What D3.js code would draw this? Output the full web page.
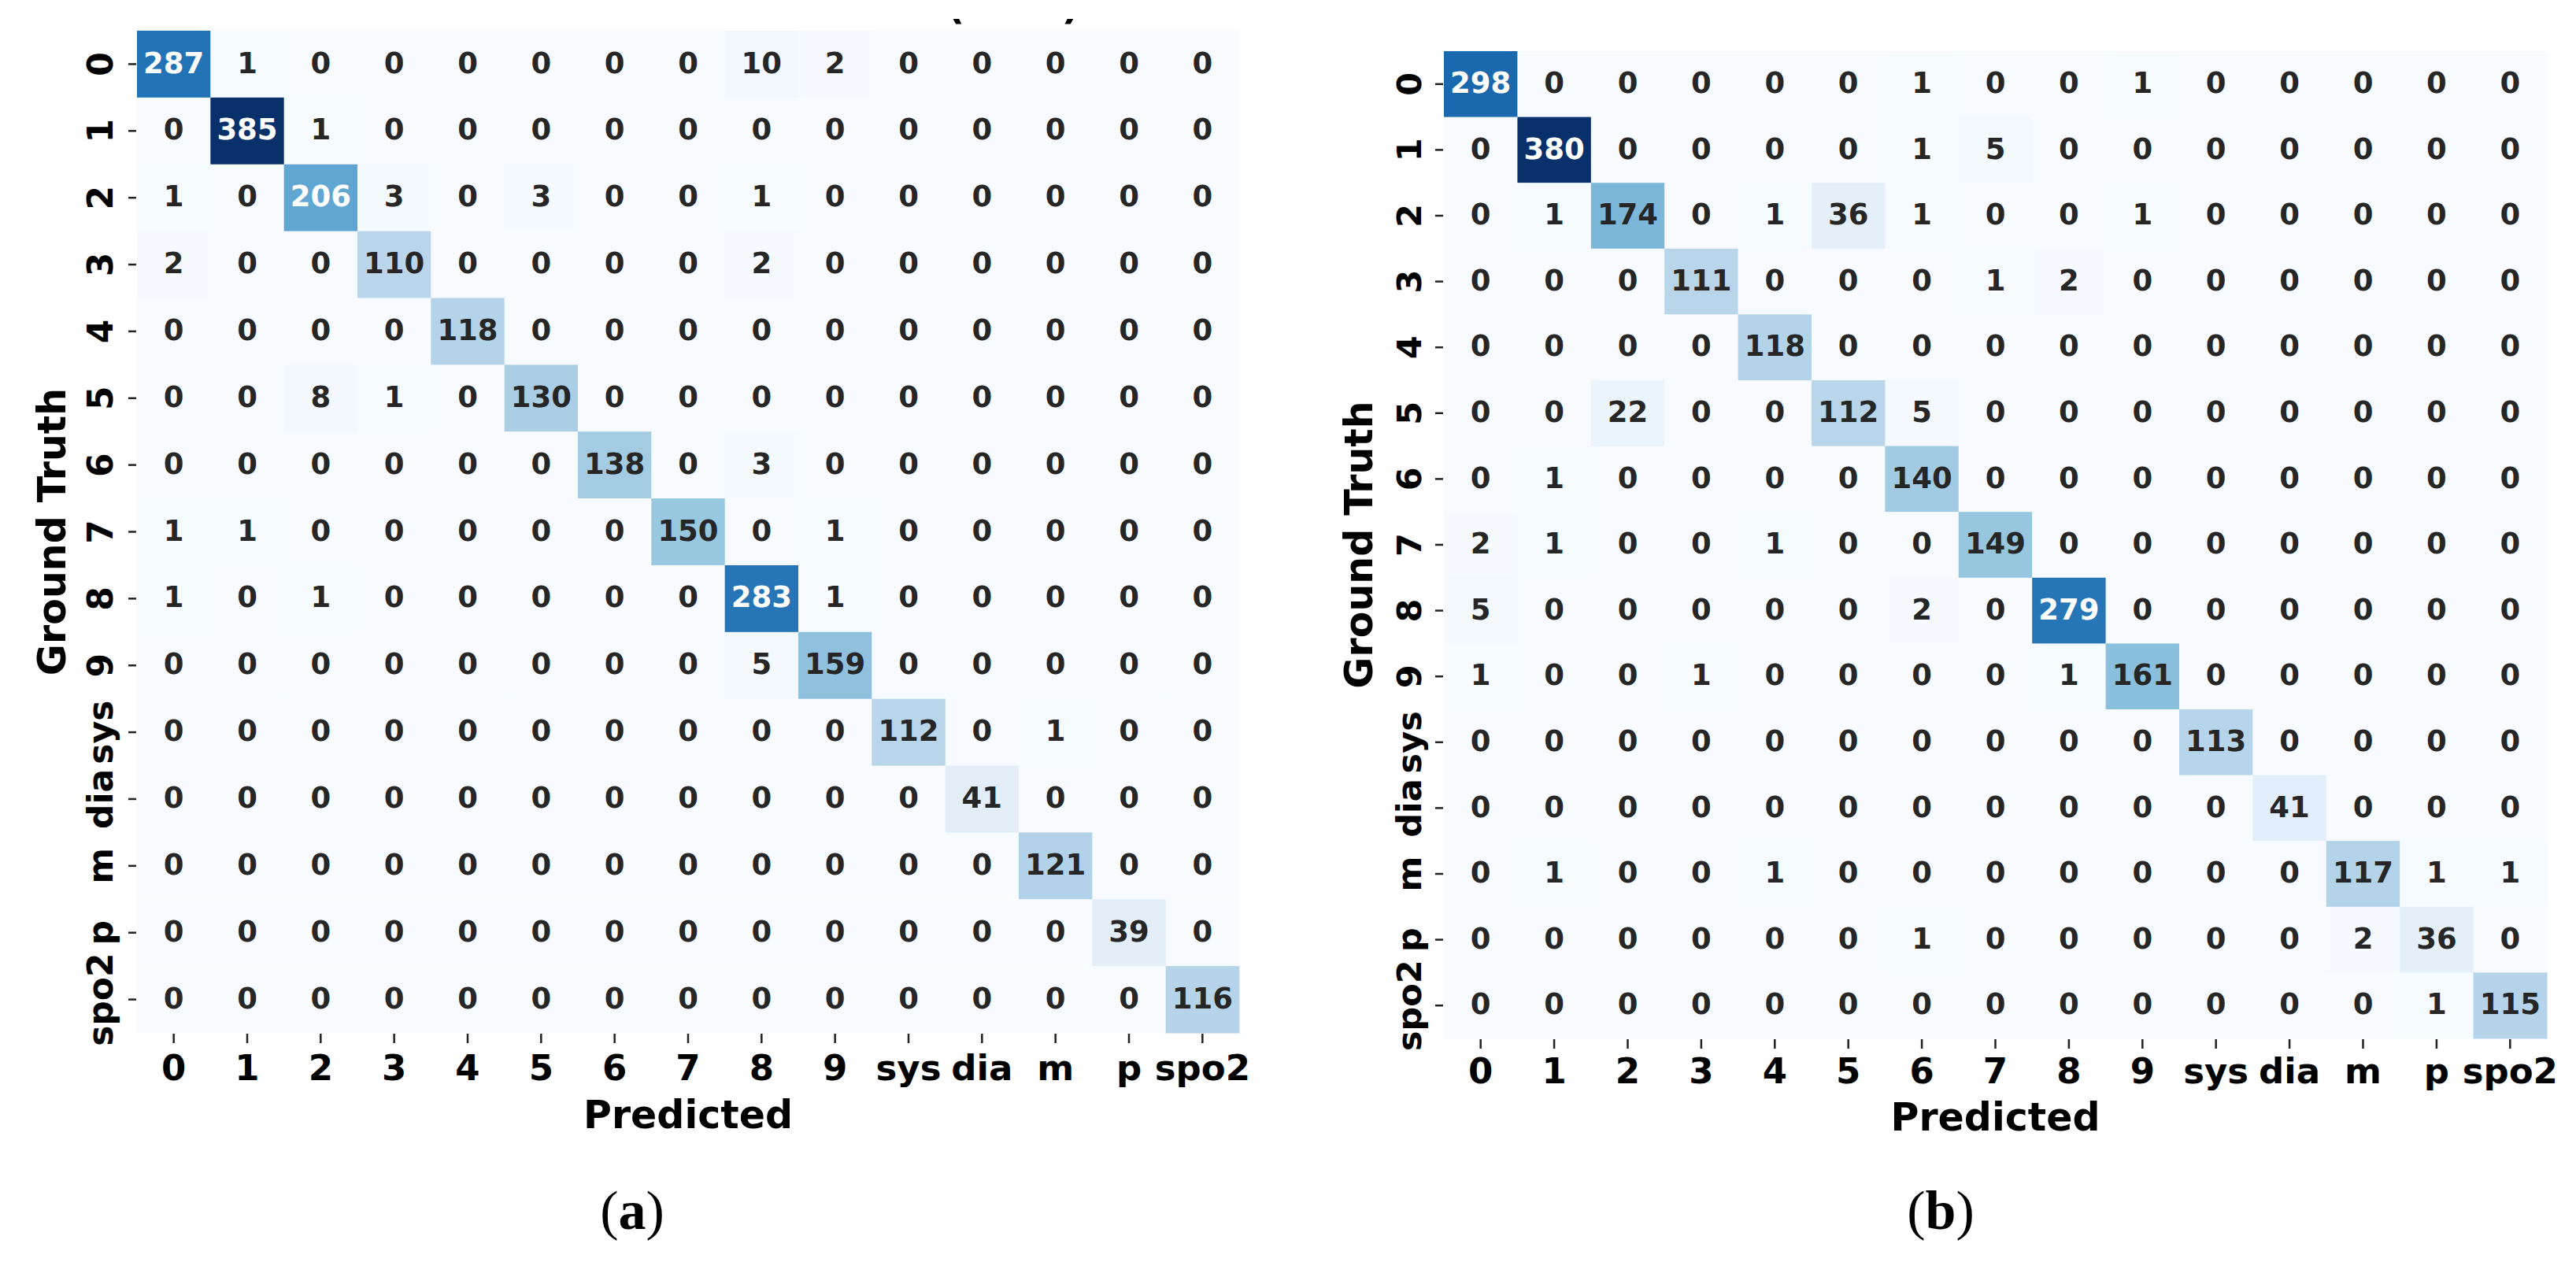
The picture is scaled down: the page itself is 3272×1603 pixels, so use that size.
<!DOCTYPE html>
<html>
<head>
<meta charset="utf-8">
<script src="https://cdn.jsdelivr.net/npm/d3@7"></script>
<style>
  body { margin: 0; background: #fff; }
  svg { display: block; font-family: "DejaVu Sans", sans-serif; }
</style>
</head>
<body>
<svg id="chart" width="3272" height="1603"></svg>
<script>
// class labels (rows = ground truth, cols = predicted)
const classes = ['0', '1', '2', '3', '4', '5', '6', '7', '8', '9', 'sys', 'dia', 'm', 'p', 'spo2'];

// confusion matrix (a)
const matrixA = [
	[287, 1, 0, 0, 0, 0, 0, 0, 10, 2, 0, 0, 0, 0, 0],
	[0, 385, 1, 0, 0, 0, 0, 0, 0, 0, 0, 0, 0, 0, 0],
	[1, 0, 206, 3, 0, 3, 0, 0, 1, 0, 0, 0, 0, 0, 0],
	[2, 0, 0, 110, 0, 0, 0, 0, 2, 0, 0, 0, 0, 0, 0],
	[0, 0, 0, 0, 118, 0, 0, 0, 0, 0, 0, 0, 0, 0, 0],
	[0, 0, 8, 1, 0, 130, 0, 0, 0, 0, 0, 0, 0, 0, 0],
	[0, 0, 0, 0, 0, 0, 138, 0, 3, 0, 0, 0, 0, 0, 0],
	[1, 1, 0, 0, 0, 0, 0, 150, 0, 1, 0, 0, 0, 0, 0],
	[1, 0, 1, 0, 0, 0, 0, 0, 283, 1, 0, 0, 0, 0, 0],
	[0, 0, 0, 0, 0, 0, 0, 0, 5, 159, 0, 0, 0, 0, 0],
	[0, 0, 0, 0, 0, 0, 0, 0, 0, 0, 112, 0, 1, 0, 0],
	[0, 0, 0, 0, 0, 0, 0, 0, 0, 0, 0, 41, 0, 0, 0],
	[0, 0, 0, 0, 0, 0, 0, 0, 0, 0, 0, 0, 121, 0, 0],
	[0, 0, 0, 0, 0, 0, 0, 0, 0, 0, 0, 0, 0, 39, 0],
	[0, 0, 0, 0, 0, 0, 0, 0, 0, 0, 0, 0, 0, 0, 116]
];

// confusion matrix (b)
const matrixB = [
	[298, 0, 0, 0, 0, 0, 1, 0, 0, 1, 0, 0, 0, 0, 0],
	[0, 380, 0, 0, 0, 0, 1, 5, 0, 0, 0, 0, 0, 0, 0],
	[0, 1, 174, 0, 1, 36, 1, 0, 0, 1, 0, 0, 0, 0, 0],
	[0, 0, 0, 111, 0, 0, 0, 1, 2, 0, 0, 0, 0, 0, 0],
	[0, 0, 0, 0, 118, 0, 0, 0, 0, 0, 0, 0, 0, 0, 0],
	[0, 0, 22, 0, 0, 112, 5, 0, 0, 0, 0, 0, 0, 0, 0],
	[0, 1, 0, 0, 0, 0, 140, 0, 0, 0, 0, 0, 0, 0, 0],
	[2, 1, 0, 0, 1, 0, 0, 149, 0, 0, 0, 0, 0, 0, 0],
	[5, 0, 0, 0, 0, 0, 2, 0, 279, 0, 0, 0, 0, 0, 0],
	[1, 0, 0, 1, 0, 0, 0, 0, 1, 161, 0, 0, 0, 0, 0],
	[0, 0, 0, 0, 0, 0, 0, 0, 0, 0, 113, 0, 0, 0, 0],
	[0, 0, 0, 0, 0, 0, 0, 0, 0, 0, 0, 41, 0, 0, 0],
	[0, 1, 0, 0, 1, 0, 0, 0, 0, 0, 0, 0, 117, 1, 1],
	[0, 0, 0, 0, 0, 0, 1, 0, 0, 0, 0, 0, 2, 36, 0],
	[0, 0, 0, 0, 0, 0, 0, 0, 0, 0, 0, 0, 0, 1, 115]
];

const svg = d3.select('#chart');
svg.append('rect').attr('width', 3272).attr('height', 1603).attr('fill', '#fff');

// seaborn's rule for picking annotation colour
const luminance = function(c) {
	const rgb = d3.rgb(c);
	const lin = [rgb.r, rgb.g, rgb.b].map(v => {
		v = v / 255;
		return v <= 0.03928 ? v / 12.92 : Math.pow((v + 0.055) / 1.055, 2.4);
	});
	return 0.2126*lin[0] + 0.7152*lin[1] + 0.0722*lin[2];
};

const drawMatrix = function(cfg) {
	const { data, left, right, top, bottom } = cfg;
	const g = svg.append('g');
	const x = d3.scaleBand().domain(classes).range([left, right]);
	const y = d3.scaleBand().domain(classes).range([top, bottom]);
	const vmax = d3.max(data.flat());
	const blues = d3.schemeBlues[9];
	const color = d3.scaleLinear()
		.domain(blues.map((_, i) => vmax * i / (blues.length - 1)))
		.range(blues)
		.interpolate(d3.interpolateRgb);

	const cells = [];
	data.forEach((row, i) => row.forEach((v, j) => cells.push({ r: classes[i], c: classes[j], v })));

	g.selectAll('rect.cell').data(cells).join('rect')
		.attr('class', 'cell')
		.attr('x', d => x(d.c))
		.attr('y', d => y(d.r))
		.attr('width', x.bandwidth() + 0.5)
		.attr('height', y.bandwidth() + 0.5)
		.attr('fill', d => color(d.v));

	const fs = 37;
	g.selectAll('text.annot').data(cells).join('text')
		.attr('class', 'annot')
		.attr('x', d => x(d.c) + x.bandwidth()/2)
		.attr('y', d => y(d.r) + y.bandwidth()/2 + 0.30*fs)
		.attr('text-anchor', 'middle')
		.attr('font-size', fs)
		.attr('font-weight', 'bold')
		.attr('fill', d => luminance(color(d.v)) > 0.408 ? '#262626' : '#fff')
		.text(d => d.v);

	// axes
	const xAxis = g.append('g')
		.attr('transform', `translate(0, ${bottom + 1})`)
		.call(d3.axisBottom(x).tickSize(12).tickPadding(0));
	xAxis.select('.domain').remove();
	xAxis.selectAll('line').attr('stroke', '#222').attr('stroke-width', 2.5);
	xAxis.selectAll('text')
		.attr('y', cfg.xLabelOffset).attr('dy', null)
		.attr('fill', '#000').attr('font-size', 45).attr('font-weight', 'bold')
		.attr('font-family', '"DejaVu Sans", sans-serif');

	const yAxis = g.append('g')
		.attr('transform', `translate(${left - 1}, 0)`)
		.call(d3.axisLeft(y).tickSize(10).tickPadding(0));
	yAxis.select('.domain').remove();
	yAxis.selectAll('line').attr('stroke', '#222').attr('stroke-width', 2.5);
	yAxis.selectAll('text')
		.attr('x', null).attr('dy', null)
		.attr('text-anchor', 'middle')
		.attr('transform', `translate(${-cfg.yLabelOffset}, 0) rotate(-90)`)
		.attr('fill', '#000').attr('font-size', cfg.yTickSize).attr('font-weight', 'bold')
		.attr('font-family', '"DejaVu Sans", sans-serif');

	g.append('text')
		.attr('x', (left + right)/2)
		.attr('y', cfg.xTitleY)
		.attr('text-anchor', 'middle')
		.attr('font-size', 49).attr('font-weight', 'bold')
		.text('Predicted');

	g.append('text')
		.attr('transform', `translate(${cfg.yTitleX}, ${(top + bottom)/2}) rotate(-90)`)
		.attr('text-anchor', 'middle')
		.attr('font-size', 49).attr('font-weight', 'bold')
		.text('Ground Truth');

	// sub-figure caption
	const cap = g.append('text')
		.attr('x', cfg.capX)
		.attr('y', 1561)
		.attr('text-anchor', 'middle')
		.attr('font-family', '"Liberation Serif", serif')
		.attr('font-size', 70);
	cap.append('tspan').text('(');
	cap.append('tspan').attr('font-weight', 'bold').text(cfg.caption);
	cap.append('tspan').text(')');
};

drawMatrix({ data: matrixA, left: 174, right: 1574, top: 39, bottom: 1312, yTickSize: 44,
	xLabelOffset: 59, yLabelOffset: 30, xTitleY: 1433, yTitleX: 83, capX: 803, caption: 'a' });
drawMatrix({ data: matrixB, left: 1834, right: 3235, top: 65, bottom: 1319, yTickSize: 43,
	xLabelOffset: 56, yLabelOffset: 28, xTitleY: 1436, yTitleX: 1743, capX: 2465, caption: 'b' });

// title of (a) is cropped off at the top of the figure, only the paren tips remain
svg.append('clipPath').attr('id', 'titleClip')
	.append('rect').attr('x', 1100).attr('y', 24).attr('width', 400).attr('height', 7);
const title = svg.append('g').attr('clip-path', 'url(#titleClip)')
	.attr('font-size', 50).attr('font-weight', 'bold');
title.append('text').attr('x', 1214).attr('y', 23.5).attr('text-anchor', 'middle').text('(');
title.append('text').attr('x', 1360).attr('y', 23.5).attr('text-anchor', 'middle').text(')');
</script>
</body>
</html>
